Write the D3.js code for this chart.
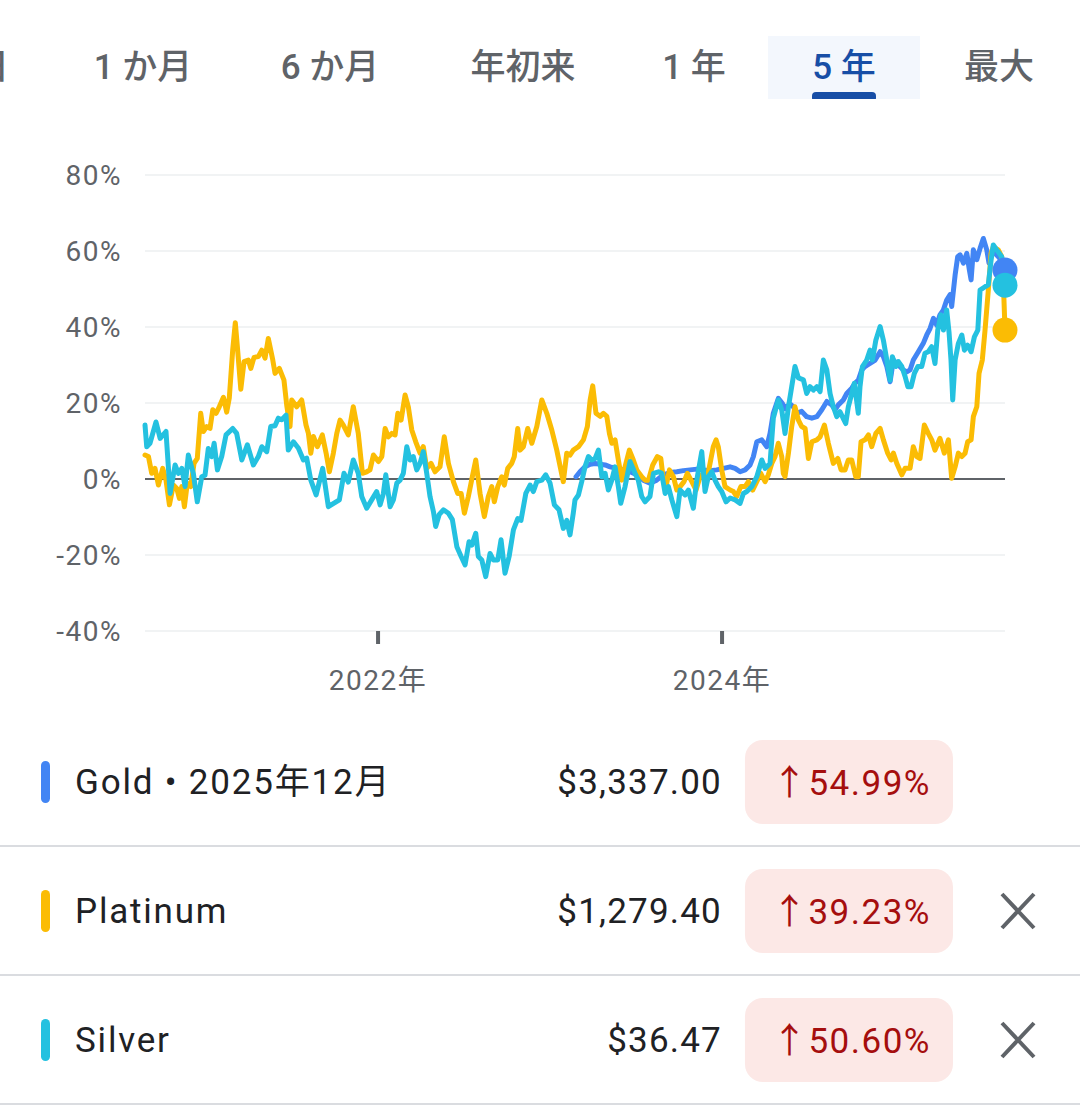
<!DOCTYPE html>
<html><head><meta charset="utf-8">
<script src="https://cdn.jsdelivr.net/npm/d3@7"></script>
<style>
html,body{margin:0;padding:0;background:#fff;}
svg{display:block;font-family:Roboto,"Noto Sans CJK JP",sans-serif;}
</style></head>
<body>
<svg id="c" width="1080" height="1110"></svg>
<script>
// ---------- data ----------
const tabs = ["1 日","1 か月","6 か月","年初来","1 年","5 年","最大"];
const selectedTab = "5 年";
const yTicks = [-40,-20,0,20,40,60,80];
const xTicks = [2022, 2024];
const xDomain = [2020.645, 2025.645];

// [decimal year, % change]
const goldData = [
[2023.151,0.6],[2023.174,1.9],[2023.203,3.2],[2023.233,3.9],[2023.262,4.1],[2023.291,3.9],[2023.320,3.7],[2023.349,3.2],
[2023.388,2.8],[2023.426,2.4],[2023.465,1.9],[2023.504,1.1],[2023.542,-0.3],[2023.581,-1.1],[2023.620,-0.3],[2023.659,1.1],
[2023.698,1.7],[2023.737,1.9],[2023.775,2.2],[2023.814,2.4],[2023.853,2.6],[2023.891,2.4],[2023.930,2.2],[2023.969,2.4],
[2024.008,2.8],[2024.047,3.2],[2024.076,2.8],[2024.105,1.9],[2024.134,2.4],[2024.163,3.7],[2024.182,5.9],[2024.202,9.8],
[2024.231,10.3],[2024.260,8.5],[2024.279,12.0],[2024.298,17.3],[2024.327,21.2],[2024.349,20.0],[2024.366,18.5],[2024.395,19.8],
[2024.415,19.0],[2024.434,17.3],[2024.463,17.8],[2024.492,16.4],[2024.522,16.0],[2024.551,16.4],[2024.580,18.2],[2024.609,20.4],
[2024.638,19.5],[2024.657,18.2],[2024.676,19.5],[2024.705,20.8],[2024.725,22.5],[2024.754,23.9],[2024.773,25.2],[2024.792,26.0],
[2024.812,28.7],[2024.831,29.6],[2024.860,30.4],[2024.890,31.3],[2024.919,33.5],[2024.938,32.2],[2024.958,29.6],[2024.977,25.6],
[2024.996,31.3],[2025.025,30.0],[2025.054,28.7],[2025.074,28.2],[2025.093,28.7],[2025.112,31.3],[2025.141,33.5],[2025.170,35.7],
[2025.190,37.9],[2025.209,39.6],[2025.229,42.3],[2025.248,40.5],[2025.267,43.2],[2025.287,44.5],[2025.306,47.1],[2025.326,48.5],
[2025.335,45.4],[2025.355,53.7],[2025.370,58.5],[2025.384,59.0],[2025.403,56.8],[2025.423,59.4],[2025.438,55.0],[2025.448,52.4],
[2025.461,60.3],[2025.481,57.7],[2025.500,60.7],[2025.519,63.3],[2025.539,60.3],[2025.552,56.8],[2025.570,59.4],[2025.587,59.4],
[2025.616,58.0],[2025.645,55.0]
];

const platinumData = [
[2020.645,6.3],[2020.665,5.9],[2020.684,1.5],[2020.703,2.8],[2020.723,-1.6],[2020.748,2.8],[2020.767,-0.3],[2020.787,-6.8],
[2020.810,-1.6],[2020.830,-2.5],[2020.845,-5.1],[2020.859,-2.0],[2020.874,-7.3],[2020.891,-1.1],[2020.911,-2.0],[2020.930,4.1],
[2020.949,5.4],[2020.969,17.3],[2020.984,12.5],[2021.004,13.8],[2021.023,13.3],[2021.039,18.2],[2021.058,17.3],[2021.077,19.0],
[2021.101,21.5],[2021.120,17.6],[2021.135,21.3],[2021.155,34.0],[2021.170,41.1],[2021.182,34.8],[2021.202,23.6],[2021.221,30.9],
[2021.246,31.3],[2021.260,29.1],[2021.279,32.0],[2021.304,32.2],[2021.324,33.9],[2021.343,31.8],[2021.362,37.0],[2021.388,31.3],
[2021.401,27.8],[2021.426,29.1],[2021.453,26.0],[2021.469,19.4],[2021.488,13.8],[2021.498,20.8],[2021.527,19.0],[2021.556,20.8],
[2021.581,14.2],[2021.595,12.0],[2021.609,6.8],[2021.624,11.2],[2021.647,8.5],[2021.676,11.6],[2021.698,6.8],[2021.717,1.9],
[2021.740,6.8],[2021.760,12.0],[2021.779,15.5],[2021.798,14.2],[2021.827,11.6],[2021.856,19.0],[2021.885,12.0],[2021.909,1.5],
[2021.934,1.9],[2021.953,2.4],[2021.973,6.3],[2022.002,4.6],[2022.022,5.9],[2022.041,13.3],[2022.060,11.1],[2022.080,12.0],
[2022.099,11.6],[2022.115,17.3],[2022.134,15.5],[2022.157,22.1],[2022.176,19.0],[2022.196,12.9],[2022.219,9.8],[2022.244,6.8],
[2022.263,8.5],[2022.283,2.8],[2022.308,4.1],[2022.331,1.9],[2022.360,3.2],[2022.385,11.1],[2022.409,4.1],[2022.438,-0.7],
[2022.463,-3.8],[2022.483,-3.8],[2022.502,-9.0],[2022.525,-4.6],[2022.548,0.6],[2022.568,5.0],[2022.593,-3.8],[2022.618,-9.9],
[2022.641,-4.6],[2022.661,-2.0],[2022.676,-6.0],[2022.696,-2.0],[2022.719,0.6],[2022.734,-1.6],[2022.754,2.8],[2022.777,4.1],
[2022.792,5.9],[2022.812,13.3],[2022.826,7.6],[2022.845,8.5],[2022.870,13.3],[2022.894,9.4],[2022.923,13.8],[2022.952,20.8],
[2022.981,17.3],[2023.010,12.9],[2023.039,7.6],[2023.077,-0.7],[2023.097,6.8],[2023.116,6.3],[2023.135,7.6],[2023.165,8.5],
[2023.194,10.3],[2023.217,13.8],[2023.233,20.8],[2023.248,24.5],[2023.267,17.3],[2023.291,16.5],[2023.310,17.3],[2023.330,16.5],
[2023.345,12.0],[2023.359,9.4],[2023.378,10.3],[2023.397,5.0],[2023.417,-0.3],[2023.436,3.2],[2023.461,7.6],[2023.484,5.0],
[2023.504,2.4],[2023.533,0.6],[2023.552,-0.3],[2023.572,-0.3],[2023.597,3.7],[2023.624,5.9],[2023.644,5.4],[2023.659,-0.3],
[2023.674,-2.0],[2023.694,2.4],[2023.717,0.6],[2023.737,-2.9],[2023.756,-2.0],[2023.779,-0.7],[2023.798,1.5],[2023.824,-0.7],
[2023.849,-2.9],[2023.872,0.6],[2023.891,1.5],[2023.911,-0.3],[2023.930,4.1],[2023.949,8.5],[2023.965,10.3],[2023.978,8.5],
[2023.998,2.4],[2024.017,-2.0],[2024.047,-2.9],[2024.066,-3.3],[2024.085,-4.6],[2024.109,-2.0],[2024.134,-2.0],[2024.153,-0.7],
[2024.178,-2.9],[2024.202,-0.7],[2024.225,1.5],[2024.250,-0.7],[2024.269,1.1],[2024.289,4.1],[2024.308,5.9],[2024.327,9.4],
[2024.347,5.9],[2024.356,1.5],[2024.366,0.6],[2024.386,6.8],[2024.405,13.8],[2024.424,19.0],[2024.444,15.5],[2024.463,13.8],
[2024.483,13.3],[2024.502,5.4],[2024.522,9.8],[2024.551,10.3],[2024.570,11.1],[2024.595,14.2],[2024.618,9.4],[2024.647,4.1],
[2024.673,5.4],[2024.692,2.4],[2024.715,2.4],[2024.734,5.0],[2024.754,5.0],[2024.777,0.6],[2024.792,0.6],[2024.808,9.8],
[2024.831,10.3],[2024.851,11.6],[2024.870,8.5],[2024.894,12.0],[2024.919,13.3],[2024.938,10.3],[2024.963,6.8],[2024.983,5.0],
[2024.996,6.8],[2025.016,4.1],[2025.045,1.1],[2025.064,2.8],[2025.093,2.8],[2025.112,8.5],[2025.132,5.9],[2025.151,5.4],
[2025.176,14.2],[2025.199,12.0],[2025.219,10.3],[2025.238,7.6],[2025.267,10.7],[2025.292,6.8],[2025.316,10.3],[2025.335,0.2],
[2025.355,3.2],[2025.374,6.8],[2025.394,5.9],[2025.413,6.8],[2025.428,9.8],[2025.448,10.3],[2025.461,16.4],[2025.481,19.0],
[2025.494,27.8],[2025.513,31.3],[2025.529,39.2],[2025.548,49.7],[2025.564,59.4],[2025.577,61.1],[2025.606,60.3],[2025.626,58.5],
[2025.636,51.0],[2025.645,39.2]
];

const silverData = [
[2020.645,14.2],[2020.655,8.5],[2020.674,9.4],[2020.709,15.0],[2020.733,10.7],[2020.767,12.5],[2020.791,-3.8],[2020.820,3.7],
[2020.839,1.5],[2020.859,2.8],[2020.878,-2.0],[2020.897,6.3],[2020.926,1.5],[2020.949,-6.0],[2020.975,0.6],[2020.994,1.0],
[2021.013,8.0],[2021.033,5.9],[2021.047,9.4],[2021.066,2.4],[2021.091,5.9],[2021.116,11.6],[2021.155,13.3],[2021.178,12.0],
[2021.208,5.0],[2021.240,9.0],[2021.275,3.7],[2021.304,5.9],[2021.324,8.5],[2021.353,7.2],[2021.376,13.8],[2021.401,14.0],
[2021.420,16.0],[2021.440,15.6],[2021.465,16.8],[2021.478,7.6],[2021.508,9.8],[2021.537,8.1],[2021.566,5.0],[2021.585,5.5],
[2021.609,-0.3],[2021.640,-4.2],[2021.678,2.8],[2021.711,-7.3],[2021.775,-5.5],[2021.802,1.5],[2021.827,-0.8],[2021.856,5.0],
[2021.885,1.5],[2021.905,-4.6],[2021.934,-7.7],[2021.963,-5.5],[2021.992,-3.3],[2022.012,-6.8],[2022.031,-3.8],[2022.045,1.1],
[2022.070,-7.3],[2022.089,-5.5],[2022.109,-1.1],[2022.128,-0.3],[2022.147,1.5],[2022.167,8.5],[2022.186,5.0],[2022.205,5.9],
[2022.225,2.4],[2022.244,4.1],[2022.263,7.2],[2022.283,1.5],[2022.302,-4.6],[2022.322,-8.6],[2022.335,-12.5],[2022.355,-9.4],
[2022.380,-8.1],[2022.409,-9.0],[2022.432,-10.7],[2022.458,-17.8],[2022.483,-20.4],[2022.506,-22.6],[2022.529,-16.5],[2022.545,-17.4],
[2022.568,-14.3],[2022.583,-20.4],[2022.603,-21.3],[2022.626,-25.7],[2022.651,-19.6],[2022.670,-21.3],[2022.696,-21.3],[2022.715,-16.0],
[2022.738,-24.8],[2022.762,-20.4],[2022.787,-13.4],[2022.812,-10.4],[2022.831,-10.9],[2022.859,-3.8],[2022.884,-1.6],[2022.903,-3.3],
[2022.923,-0.7],[2022.952,-0.3],[2022.975,1.1],[2023.000,-1.1],[2023.025,-6.8],[2023.052,-8.1],[2023.077,-13.0],[2023.097,-10.9],
[2023.116,-14.7],[2023.135,-9.0],[2023.145,-5.5],[2023.165,-4.2],[2023.184,-0.7],[2023.203,3.2],[2023.223,5.9],[2023.242,5.0],
[2023.262,5.4],[2023.281,7.6],[2023.301,0.6],[2023.320,1.5],[2023.339,-2.9],[2023.359,-0.3],[2023.378,3.2],[2023.397,-2.0],
[2023.411,-6.4],[2023.436,-2.0],[2023.465,4.6],[2023.494,1.5],[2023.513,-0.3],[2023.533,-4.6],[2023.552,-6.0],[2023.581,-4.6],
[2023.601,1.5],[2023.630,1.9],[2023.649,1.5],[2023.669,-3.8],[2023.688,-2.0],[2023.708,-5.5],[2023.737,-9.9],[2023.756,-2.9],
[2023.785,-4.2],[2023.804,-2.9],[2023.833,-7.7],[2023.853,-0.3],[2023.882,7.2],[2023.901,-3.3],[2023.920,0.6],[2023.940,1.9],
[2023.959,-0.3],[2023.978,-2.0],[2023.998,-3.3],[2024.023,-6.0],[2024.047,-5.0],[2024.076,-5.5],[2024.105,-6.4],[2024.124,-3.8],
[2024.144,-3.3],[2024.173,-2.0],[2024.202,0.6],[2024.231,5.0],[2024.250,2.8],[2024.279,4.1],[2024.298,16.0],[2024.327,20.8],
[2024.347,18.2],[2024.366,12.0],[2024.386,19.0],[2024.405,24.3],[2024.424,29.6],[2024.444,26.6],[2024.473,26.1],[2024.492,22.5],
[2024.512,24.3],[2024.531,23.4],[2024.551,24.3],[2024.570,23.0],[2024.589,31.3],[2024.609,28.7],[2024.628,22.5],[2024.647,19.0],
[2024.667,16.4],[2024.686,17.7],[2024.705,15.9],[2024.719,14.6],[2024.734,19.0],[2024.754,22.5],[2024.769,25.2],[2024.792,17.3],
[2024.802,24.3],[2024.816,29.6],[2024.841,31.3],[2024.860,33.9],[2024.874,31.3],[2024.894,36.5],[2024.919,40.1],[2024.938,36.5],
[2024.958,31.3],[2024.977,26.0],[2024.990,32.2],[2025.010,29.6],[2025.025,30.9],[2025.045,29.6],[2025.064,27.0],[2025.080,24.3],
[2025.099,24.3],[2025.118,27.8],[2025.138,29.6],[2025.161,29.6],[2025.180,33.1],[2025.199,33.5],[2025.219,34.8],[2025.238,30.4],
[2025.254,39.2],[2025.273,43.2],[2025.287,39.2],[2025.306,44.5],[2025.320,38.4],[2025.331,31.3],[2025.341,20.8],[2025.355,31.3],
[2025.374,35.7],[2025.394,37.9],[2025.409,33.9],[2025.428,35.2],[2025.448,33.5],[2025.467,37.4],[2025.487,39.2],[2025.500,49.7],
[2025.529,50.6],[2025.548,51.1],[2025.564,57.6],[2025.577,61.6],[2025.597,60.3],[2025.626,58.5],[2025.645,51.0]
];

const seriesNames = ["Gold","Platinum","Silver"];
const seriesColors = ["#4285f4","#fbbc04","#24c1e0"];
const legendLabels = ["Gold • 2025年12月","Platinum","Silver"];
const legendPrices = ["$3,337.00","$1,279.40","$36.47"];
const legendChanges = ["↑54.99%","↑39.23%","↑50.60%"];
const legendRemovable = [false,true,true];

// ---------- drawing ----------
const svg = d3.select("#c");
const x = d3.scaleLinear().domain(xDomain).range([145, 1005]);
const y = d3.scaleLinear().domain([-40, 80]).range([631, 175]);

// tabs
const tabX = [9,143,330,523,694,844,999];
const tabAnchor = ["end","middle","middle","middle","middle","middle","middle"];
svg.append("rect").attr("x",768).attr("y",36).attr("width",152).attr("height",63).attr("fill","#f3f7fd");
svg.append("rect").attr("x",812).attr("y",92).attr("width",64).attr("height",10).attr("rx",4).attr("fill","#174ea6");
svg.append("rect").attr("x",768).attr("y",99).attr("width",152).attr("height",6).attr("fill","#fff");
tabs.forEach((t,i)=>{
  svg.append("text").attr("x",tabX[i]).attr("y",67).attr("text-anchor",tabAnchor[i])
    .attr("dominant-baseline","central").attr("font-size",35).attr("font-weight",500)
    .attr("fill", t===selectedTab ? "#174ea6" : "#5f6368").text(t);
});

// grid + y labels
const g = svg.append("g");
g.selectAll("line.grid").data(yTicks.filter(d=>d!==0)).join("line")
  .attr("x1",145).attr("x2",1005).attr("y1",d=>y(d)).attr("y2",d=>y(d))
  .attr("stroke","#f1f3f4").attr("stroke-width",2);
g.selectAll("text.yl").data(yTicks).join("text")
  .attr("x",122).attr("y",d=>y(d)).attr("text-anchor","end").attr("dominant-baseline","central")
  .attr("font-size",28).attr("letter-spacing",1.5).attr("fill","#5f6368").text(d=>d+"%");

// x ticks
g.selectAll("rect.xt").data(xTicks).join("rect")
  .attr("x",d=>x(d)-2).attr("y",631).attr("width",4).attr("height",13).attr("fill","#5f6368");
g.selectAll("text.xl").data(xTicks).join("text")
  .attr("x",d=>x(d)).attr("y",680).attr("text-anchor","middle").attr("dominant-baseline","central")
  .attr("font-size",28).attr("letter-spacing",1.5).attr("fill","#5f6368").text(d=>d+"年");

// zero line
g.append("line").attr("x1",145).attr("x2",1005).attr("y1",y(0)).attr("y2",y(0))
  .attr("stroke","#5f6368").attr("stroke-width",2);

// lines
const line = d3.line().x(d=>x(d[0])).y(d=>y(d[1]));
const allData = [goldData, platinumData, silverData];
allData.forEach((data,i)=>{
  g.append("path").datum(data).attr("d",line).attr("fill","none")
    .attr("stroke",seriesColors[i]).attr("stroke-width",5)
    .attr("stroke-linejoin","round").attr("stroke-linecap","round");
});
// end dots
[platinumData, goldData, silverData].forEach((data)=>{
  const i = allData.indexOf(data);
  const last = data[data.length-1];
  g.append("circle").attr("cx",x(last[0])).attr("cy",y(last[1])).attr("r",12.5).attr("fill",seriesColors[i]);
});

// legend
const rowTop = [717, 846, 975];
const rowH = 129;
seriesNames.forEach((n,i)=>{
  const cy = rowTop[i] + 65;
  const row = svg.append("g");
  row.append("rect").attr("x",41).attr("y",cy-21).attr("width",9).attr("height",42).attr("rx",4.5).attr("fill",seriesColors[i]);
  row.append("text").attr("x",75).attr("y",cy).attr("dominant-baseline","central")
    .attr("font-size",35).attr("letter-spacing",1.8).attr("fill","#202124").text(legendLabels[i]);
  const ct = row.append("text").attr("x",931).attr("y",cy+1).attr("text-anchor","end").attr("dominant-baseline","central")
    .attr("font-size",35).attr("letter-spacing",1.5).attr("fill","#a50e0e").text(legendChanges[i]);
  const w = ct.node().getComputedTextLength();
  const bx = 931 - w - 27;
  row.insert("rect","text:last-child").attr("x",bx).attr("y",cy-42).attr("width",953-bx).attr("height",84).attr("rx",18).attr("fill","#fce8e6");
  row.append("text").attr("x",bx-23).attr("y",cy).attr("text-anchor","end").attr("dominant-baseline","central")
    .attr("font-size",35).attr("letter-spacing",1.2).attr("fill","#202124").text(legendPrices[i]);
  if (legendRemovable[i]) {
    row.append("path").attr("d",`M1002,${cy-17}L1034,${cy+17}M1034,${cy-17}L1002,${cy+17}`)
      .attr("stroke","#5f6368").attr("stroke-width",4).attr("fill","none");
  }
  svg.append("line").attr("x1",0).attr("x2",1080).attr("y1",rowTop[i]+rowH).attr("y2",rowTop[i]+rowH)
    .attr("stroke","#dadce0").attr("stroke-width",2);
});
</script>
</body></html>
